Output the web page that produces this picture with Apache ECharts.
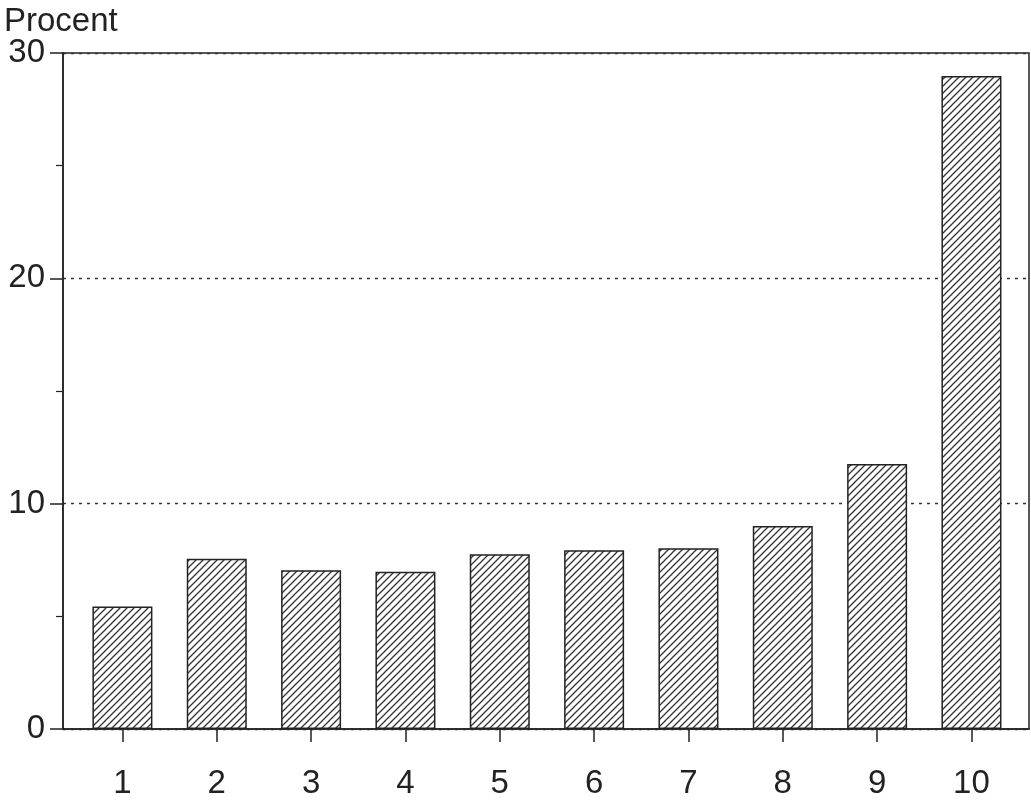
<!DOCTYPE html>
<html>
<head>
<meta charset="utf-8">
<script src="https://cdn.jsdelivr.net/npm/echarts@6/dist/echarts.min.js"></script>
<style>
  html, body { margin: 0; padding: 0; background: #fff; }
  #chart { width: 1031px; height: 800px; }
</style>
</head>
<body>
<div id="chart"></div>
<script>
// decile groups and share (procent)
const categories = ['1', '2', '3', '4', '5', '6', '7', '8', '9', '10'];
const positions = [1, 2, 3, 4, 5, 6, 7, 8, 9, 10];
const values = [5.44, 7.56, 7.05, 6.98, 7.75, 7.93, 8.02, 9.01, 11.76, 28.98];
const yTicks = [0, 10, 20, 30];

const ink = '#222';
const font = 'Liberation Sans, Arial, sans-serif';

// diagonal hatch fill
function makeHatch() {
  const s = 7;
  const c = document.createElement('canvas');
  c.width = s; c.height = s;
  const g = c.getContext('2d');
  g.fillStyle = '#fff';
  g.fillRect(0, 0, s, s);
  g.strokeStyle = '#333';
  g.lineWidth = 1.3;
  g.beginPath();
  g.moveTo(-1, s + 1); g.lineTo(s + 1, -1);
  g.moveTo(-1, 1); g.lineTo(1, -1);
  g.moveTo(s - 1, s + 1); g.lineTo(s + 1, s - 1);
  g.stroke();
  return c;
}

const chart = echarts.init(document.getElementById('chart'));

chart.setOption({
  backgroundColor: '#fff',
  animation: false,
  title: {
    text: 'Procent',
    left: -1,
    top: 0,
    textStyle: { color: ink, fontFamily: font, fontSize: 33, fontWeight: 'normal' }
  },
  grid: {
    left: 63, right: 2, top: 53, bottom: 68,
    show: true, borderColor: ink, borderWidth: 1.5, backgroundColor: 'transparent'
  },
  xAxis: {
    type: 'value',
    min: 0.37,
    max: 10.61,
    axisLine: { show: true, lineStyle: { color: ink, width: 1.5 } },
    axisTick: {
      show: true, customValues: positions, length: 13,
      lineStyle: { color: ink, width: 1.5 }
    },
    axisLabel: {
      customValues: positions,
      margin: 38,
      color: ink, fontFamily: font, fontSize: 33,
      formatter: v => categories[positions.indexOf(v)]
    },
    splitLine: { show: false }
  },
  yAxis: {
    type: 'value',
    min: yTicks[0],
    max: yTicks[yTicks.length - 1],
    interval: 10,
    axisLine: { show: true, lineStyle: { color: ink, width: 1.5 } },
    axisTick: { show: true, length: 13, lineStyle: { color: ink, width: 1.5 } },
    minorTick: { show: true, splitNumber: 2, length: 7, lineStyle: { color: ink, width: 1.2 } },
    axisLabel: { margin: 18, padding: [10, 0, 0, 0], color: ink, fontFamily: font, fontSize: 33 },
    splitLine: { show: true, lineStyle: { color: '#333', width: 1.3, type: [3, 5] } }
  },
  series: [{
    type: 'bar',
    barWidth: 60,
    data: positions.map((p, i) => [p, values[i]]),
    itemStyle: {
      color: { image: makeHatch(), repeat: 'repeat' },
      borderColor: ink,
      borderWidth: 1.5
    }
  }]
});
</script>
</body>
</html>
